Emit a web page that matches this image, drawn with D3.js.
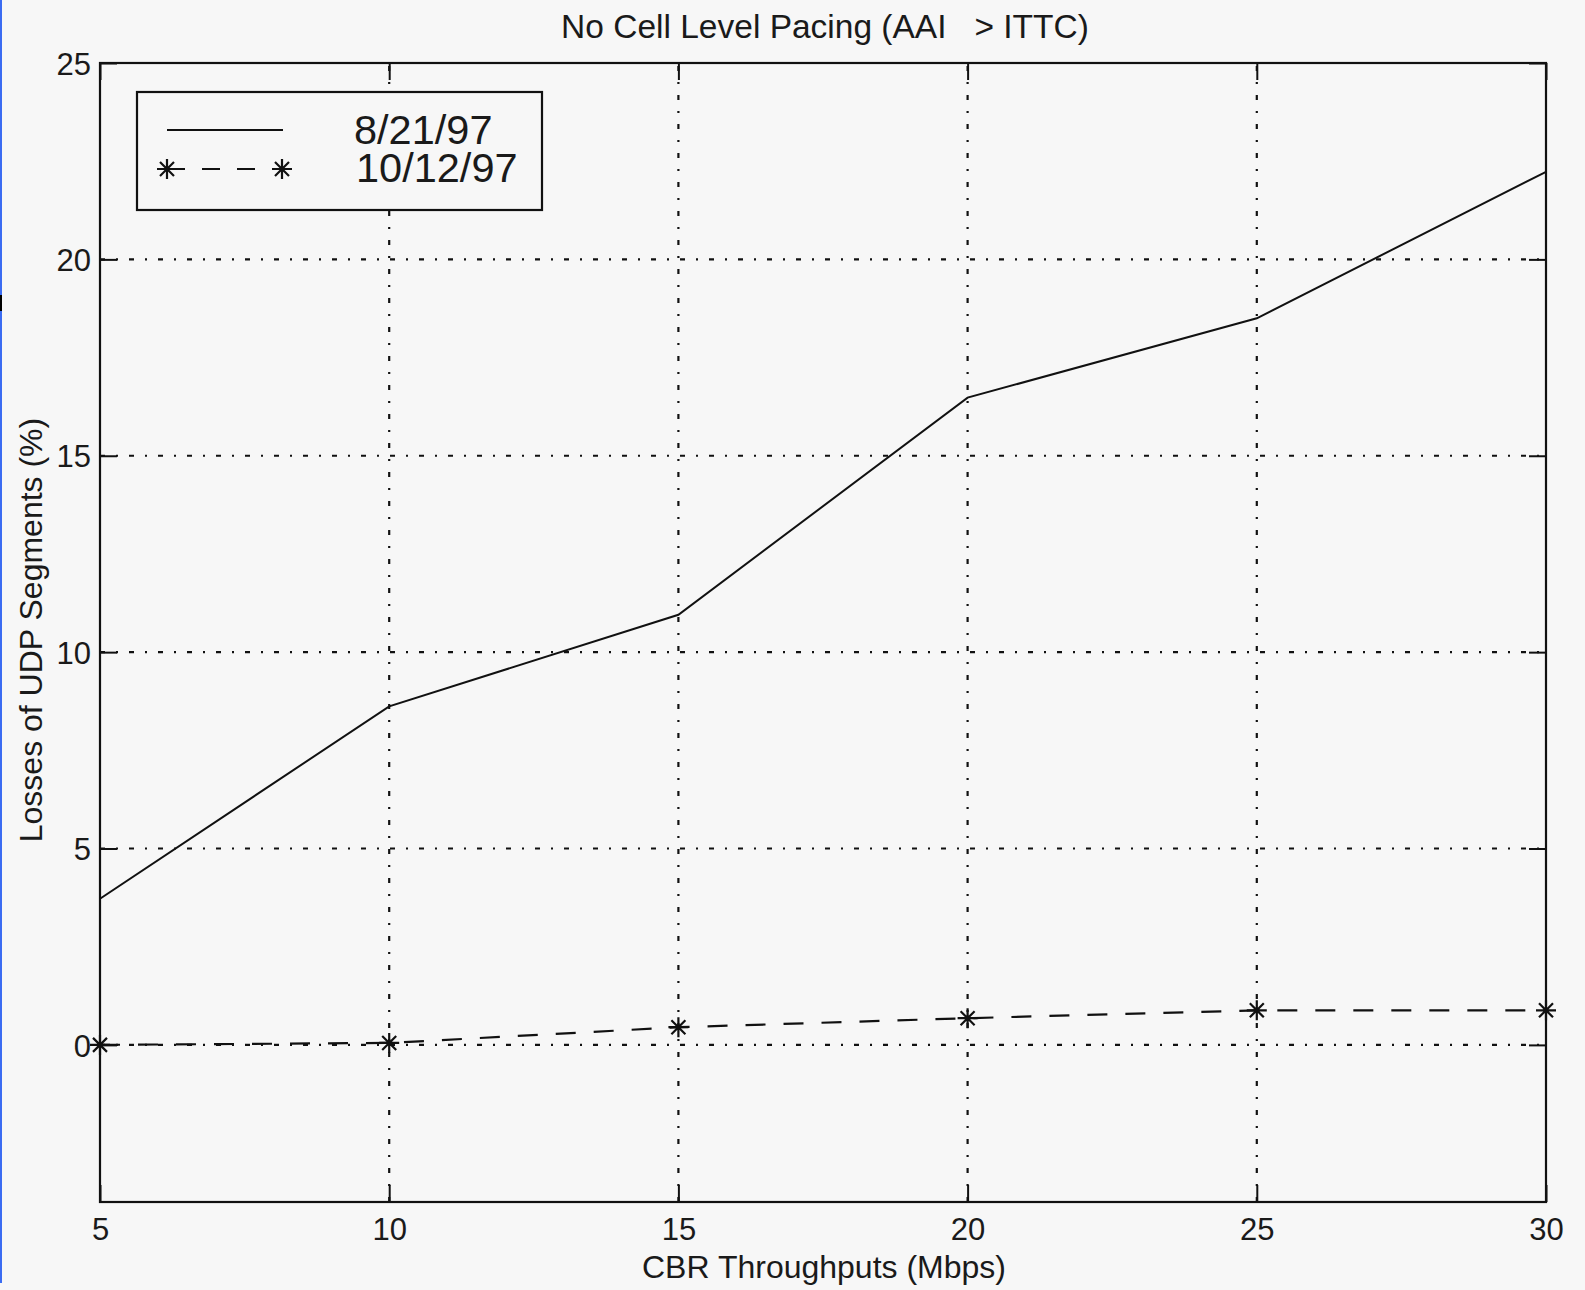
<html>
<head>
<script src="https://cdn.jsdelivr.net/npm/d3@7"></script>
<style>
  body { margin: 0; background: #f7f7f7; }
  text { font-family: "Liberation Sans", Arial, Helvetica, sans-serif; fill: #1a1a1a; }
</style>
</head>
<body>
<svg id="chart"></svg>
<script>
    // data
    var throughputs = [5, 10, 15, 20, 25, 30];
    var losses0821 = [3.72, 8.62, 10.95, 16.48, 18.5, 22.23];
    var losses1012 = [0.0, 0.05, 0.45, 0.68, 0.88, 0.88];
    var seriesNames = ["8/21/97", "10/12/97"];
    var xTicks = [5, 10, 15, 20, 25, 30];
    var yTicks = [0, 5, 10, 15, 20, 25];
    var titleText = "No Cell Level Pacing (AAI \u00a0 > ITTC)";
    var xLabel = "CBR Throughputs (Mbps)";
    var yLabel = "Losses of UDP Segments (%)";

    var W = 1585, H = 1290;
    var pLeft = 100, pRight = 1546, pTop = 63, pBottom = 1202;
    var tick = 17;

    var svg = d3.select("#chart").attr("width", W).attr("height", H);

    svg.append("rect").attr("width", W).attr("height", H).style("fill", "#f7f7f7");
    // blue edge of the scanned window
    svg.append("rect").attr("x", 0).attr("y", 0).attr("width", 2).attr("height", 1283).style("fill", "#3b6cf2");
    svg.append("rect").attr("x", 0).attr("y", 295).attr("width", 2).attr("height", 16).style("fill", "#000");

    var x = d3.scaleLinear().domain([5, 30]).range([pLeft, pRight]);
    var y = d3.scaleLinear().domain([-4, 25]).range([pBottom, pTop]);

    // grid
    var grid = svg.append("g")
        .style("stroke", "#111").style("stroke-width", 2.2)
        .style("stroke-dasharray", "5,11,2,11").style("fill", "none");
    grid.selectAll("line.gx")
        .data(xTicks.filter(function(d){ return d > 5 && d < 30; }))
        .enter().append("line")
        .attr("x1", function(d){ return x(d); }).attr("x2", function(d){ return x(d); })
        .attr("y1", pBottom).attr("y2", pTop);
    grid.selectAll("line.gy")
        .data(yTicks.filter(function(d){ return d < 25; }))
        .enter().append("line")
        .attr("y1", function(d){ return y(d); }).attr("y2", function(d){ return y(d); })
        .attr("x1", pLeft).attr("x2", pRight);

    // axes with inward ticks on all four sides
    var axB = svg.append("g").attr("transform", "translate(0," + pBottom + ")")
        .call(d3.axisBottom(x).tickValues(xTicks).tickSize(-tick).tickPadding(16).tickSizeOuter(0));
    var axT = svg.append("g").attr("transform", "translate(0," + pTop + ")")
        .call(d3.axisTop(x).tickValues(xTicks).tickSize(-tick).tickFormat("").tickSizeOuter(0));
    var axL = svg.append("g").attr("transform", "translate(" + pLeft + ",0)")
        .call(d3.axisLeft(y).tickValues(yTicks).tickSize(-tick).tickPadding(9).tickSizeOuter(0));
    var axR = svg.append("g").attr("transform", "translate(" + pRight + ",0)")
        .call(d3.axisRight(y).tickValues(yTicks).tickSize(-tick).tickFormat("").tickSizeOuter(0));

    [axB, axT, axL, axR].forEach(function(a){
        a.select(".domain").remove();
        a.selectAll(".tick line").style("stroke", "#111").style("stroke-width", 2);
        a.selectAll("text").style("font-size", "31px").style("fill", "#1a1a1a")
            .style("font-family", "'Liberation Sans', Arial, sans-serif");
    });
    axL.selectAll("text").attr("dy", "0.36em");

    svg.append("rect").attr("x", pLeft).attr("y", pTop)
        .attr("width", pRight - pLeft).attr("height", pBottom - pTop)
        .style("fill", "none").style("stroke", "#111").style("stroke-width", 2.2);

    // series
    var pts0821 = throughputs.map(function(t, i){ return [t, losses0821[i]]; });
    var pts1012 = throughputs.map(function(t, i){ return [t, losses1012[i]]; });
    var line = d3.line().x(function(d){ return x(d[0]); }).y(function(d){ return y(d[1]); });

    svg.append("path").attr("d", line(pts0821))
        .style("fill", "none").style("stroke", "#111").style("stroke-width", 2);
    svg.append("path").attr("d", line(pts1012))
        .style("fill", "none").style("stroke", "#111").style("stroke-width", 2.2)
        .style("stroke-dasharray", "20,18");

    function star(cx, cy) {
        var r = 10, q = 7;
        return "M" + (cx - r) + "," + cy + "h" + (2 * r) +
               "M" + cx + "," + (cy - r) + "v" + (2 * r) +
               "M" + (cx - q) + "," + (cy - q) + "l" + (2 * q) + "," + (2 * q) +
               "M" + (cx - q) + "," + (cy + q) + "l" + (2 * q) + "," + (-2 * q);
    }
    svg.selectAll("path.mk")
        .data(pts1012)
        .enter().append("path").attr("class", "mk")
        .attr("d", function(d){ return star(x(d[0]), y(d[1])); })
        .style("stroke", "#111").style("stroke-width", 2.2).style("fill", "none");

    // title and axis labels
    svg.append("text").attr("x", (pLeft + pRight) / 2 + 2).attr("y", 38)
        .attr("text-anchor", "middle").style("font-size", "33.5px").text(titleText);
    svg.append("text").attr("x", (pLeft + pRight) / 2 + 1).attr("y", 1278)
        .attr("text-anchor", "middle").style("font-size", "32px").text(xLabel);
    svg.append("text").attr("transform", "translate(42,630) rotate(-90)")
        .attr("text-anchor", "middle").style("font-size", "32px").text(yLabel);

    // legend
    var lg = svg.append("g");
    lg.append("rect").attr("x", 137).attr("y", 92).attr("width", 405).attr("height", 118)
        .style("fill", "#f7f7f7").style("stroke", "#111").style("stroke-width", 2.2);
    lg.append("line").attr("x1", 167).attr("x2", 283).attr("y1", 130).attr("y2", 130)
        .style("stroke", "#111").style("stroke-width", 2);
    lg.append("line").attr("x1", 167).attr("x2", 282).attr("y1", 169).attr("y2", 169)
        .style("stroke", "#111").style("stroke-width", 2.2).style("stroke-dasharray", "18,17");
    lg.append("path").attr("d", star(167, 169) + star(282, 169))
        .style("stroke", "#111").style("stroke-width", 2.2).style("fill", "none");
    lg.selectAll("text.lt")
        .data(seriesNames)
        .enter().append("text")
        .attr("x", function(d, i){ return i === 0 ? 354 : 356; })
        .attr("y", function(d, i){ return 144 + i * 38; })
        .style("font-size", "41.5px").text(function(d){ return d; });
</script>
</body>
</html>
